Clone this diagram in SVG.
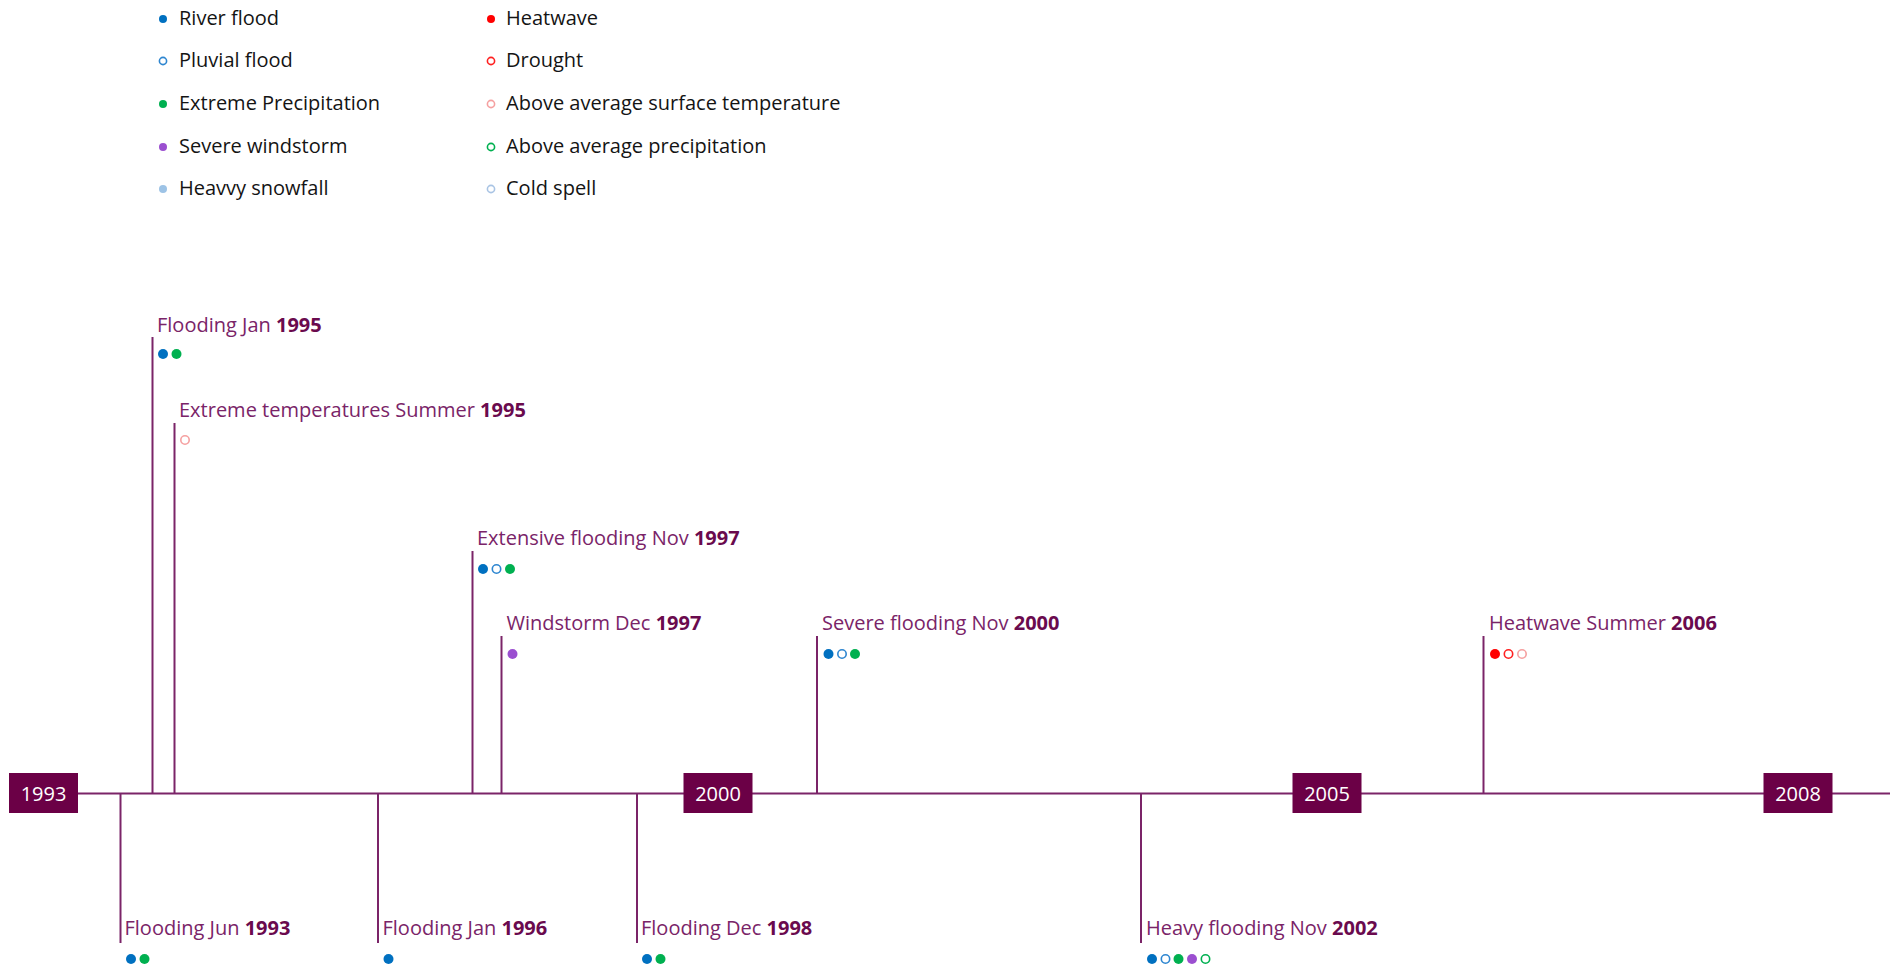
<svg xmlns="http://www.w3.org/2000/svg" width="1895" height="969" viewBox="0 0 1895 969">
<style>
  text { font-family: "Open Sans", "Liberation Sans", sans-serif; font-size: 20px; }
  .leg { fill: #141414; }
  .lbl { fill: #7a2468; }
  .lbl tspan.y { font-weight: bold; fill: #6a0a4e; }
  .yr { fill: #ffffff; text-anchor: middle; }
  .box { fill: #6b0046; }
  .stem { stroke: #7b2468; stroke-width: 2; fill: none; }
  .axis { stroke: #7b2468; stroke-width: 2; fill: none; }
  .river { fill: #0070c0; }
  .pluvial { fill: none; stroke: #2e86d0; stroke-width: 1.6; }
  .precip { fill: #00b050; }
  .wind { fill: #9b4fd0; }
  .snow { fill: #9dc3e6; }
  .heat { fill: #ff0000; }
  .drought { fill: none; stroke: #ff2020; stroke-width: 1.6; }
  .surf { fill: none; stroke: #f5a0a0; stroke-width: 1.6; }
  .aprecip { fill: none; stroke: #00b050; stroke-width: 1.6; }
  .cold { fill: none; stroke: #a9c4e4; stroke-width: 1.6; }
</style>

<g id="legend">
  <circle class="river" cx="163" cy="19" r="4"/>
  <text class="leg" x="179" y="25">River flood</text>
  <circle class="pluvial" cx="163" cy="61" r="3.6" stroke-width="1.4"/>
  <text class="leg" x="179" y="67">Pluvial flood</text>
  <circle class="precip" cx="163" cy="104" r="4"/>
  <text class="leg" x="179" y="110">Extreme Precipitation</text>
  <circle class="wind" cx="163" cy="147" r="4"/>
  <text class="leg" x="179" y="153">Severe windstorm</text>
  <circle class="snow" cx="163" cy="189" r="4"/>
  <text class="leg" x="179" y="195">Heavvy snowfall</text>

  <circle class="heat" cx="491" cy="19" r="4"/>
  <text class="leg" x="506" y="25">Heatwave</text>
  <circle class="drought" cx="491" cy="61" r="3.6" stroke-width="1.4"/>
  <text class="leg" x="506" y="67">Drought</text>
  <circle class="surf" cx="491" cy="104" r="3.6" stroke-width="1.4"/>
  <text class="leg" x="506" y="110">Above average surface temperature</text>
  <circle class="aprecip" cx="491" cy="147" r="3.6" stroke-width="1.4"/>
  <text class="leg" x="506" y="153">Above average precipitation</text>
  <circle class="cold" cx="491" cy="189" r="3.6" stroke-width="1.4"/>
  <text class="leg" x="506" y="195">Cold spell</text>
</g>

<g id="connectors">
  <line class="axis" x1="9" y1="793.5" x2="1890" y2="793.5"/>
  <line class="stem" x1="152.5" y1="337" x2="152.5" y2="793.5"/>
  <line class="stem" x1="174.5" y1="423" x2="174.5" y2="793.5"/>
  <line class="stem" x1="472.5" y1="551" x2="472.5" y2="793.5"/>
  <line class="stem" x1="501.5" y1="636" x2="501.5" y2="793.5"/>
  <line class="stem" x1="817" y1="636" x2="817" y2="793.5"/>
  <line class="stem" x1="1483.5" y1="636" x2="1483.5" y2="793.5"/>
  <line class="stem" x1="120.5" y1="793.5" x2="120.5" y2="943"/>
  <line class="stem" x1="378" y1="793.5" x2="378" y2="943"/>
  <line class="stem" x1="637" y1="793.5" x2="637" y2="943"/>
  <line class="stem" x1="1141" y1="793.5" x2="1141" y2="943"/>
</g>

<g id="year-1993">
  <rect class="box" x="9" y="773" width="69" height="40"/>
  <text class="yr" x="43.5" y="800.5">1993</text>
</g>
<g id="year-2000">
  <rect class="box" x="683.5" y="773" width="69" height="40"/>
  <text class="yr" x="718" y="800.5">2000</text>
</g>
<g id="year-2005">
  <rect class="box" x="1292.5" y="773" width="69" height="40"/>
  <text class="yr" x="1327" y="800.5">2005</text>
</g>
<g id="year-2008">
  <rect class="box" x="1763.5" y="773" width="69" height="40"/>
  <text class="yr" x="1798" y="800.5">2008</text>
</g>

<g id="event-flooding-jan-1995">
  <text class="lbl" x="157" y="332">Flooding Jan <tspan class="y">1995</tspan></text>
  <circle class="river" cx="163" cy="354" r="5"/>
  <circle class="precip" cx="176.5" cy="354" r="5"/>
</g>
<g id="event-extreme-temperatures-summer-1995">
  <text class="lbl" x="179" y="417">Extreme temperatures Summer <tspan class="y">1995</tspan></text>
  <circle class="surf" cx="185" cy="440" r="4.2"/>
</g>
<g id="event-extensive-flooding-nov-1997">
  <text class="lbl" x="477" y="545">Extensive flooding Nov <tspan class="y">1997</tspan></text>
  <circle class="river" cx="483" cy="569" r="5"/>
  <circle class="pluvial" cx="496.5" cy="569" r="4.2"/>
  <circle class="precip" cx="510" cy="569" r="5"/>
</g>
<g id="event-windstorm-dec-1997">
  <text class="lbl" x="506.5" y="630">Windstorm Dec <tspan class="y">1997</tspan></text>
  <circle class="wind" cx="512.5" cy="654" r="5"/>
</g>
<g id="event-severe-flooding-nov-2000">
  <text class="lbl" x="822" y="630">Severe flooding Nov <tspan class="y">2000</tspan></text>
  <circle class="river" cx="828.5" cy="654" r="5"/>
  <circle class="pluvial" cx="842" cy="654" r="4.2"/>
  <circle class="precip" cx="855" cy="654" r="5"/>
</g>
<g id="event-heatwave-summer-2006">
  <text class="lbl" x="1489" y="630">Heatwave Summer <tspan class="y">2006</tspan></text>
  <circle class="heat" cx="1495" cy="654" r="5"/>
  <circle class="drought" cx="1508.5" cy="654" r="4.2"/>
  <circle class="surf" cx="1522" cy="654" r="4.2"/>
</g>
<g id="event-flooding-jun-1993">
  <text class="lbl" x="124.5" y="935">Flooding Jun <tspan class="y">1993</tspan></text>
  <circle class="river" cx="131" cy="959" r="5"/>
  <circle class="precip" cx="144.5" cy="959" r="5"/>
</g>
<g id="event-flooding-jan-1996">
  <text class="lbl" x="382.5" y="935">Flooding Jan <tspan class="y">1996</tspan></text>
  <circle class="river" cx="388.5" cy="959" r="5"/>
</g>
<g id="event-flooding-dec-1998">
  <text class="lbl" x="641" y="935">Flooding Dec <tspan class="y">1998</tspan></text>
  <circle class="river" cx="647" cy="959" r="5"/>
  <circle class="precip" cx="660.5" cy="959" r="5"/>
</g>
<g id="event-heavy-flooding-nov-2002">
  <text class="lbl" x="1146" y="935">Heavy flooding Nov <tspan class="y">2002</tspan></text>
  <circle class="river" cx="1152" cy="959" r="5"/>
  <circle class="pluvial" cx="1165.5" cy="959" r="4.2"/>
  <circle class="precip" cx="1178.5" cy="959" r="5"/>
  <circle class="wind" cx="1192" cy="959" r="5"/>
  <circle class="aprecip" cx="1205.5" cy="959" r="4.2"/>
</g>
</svg>
